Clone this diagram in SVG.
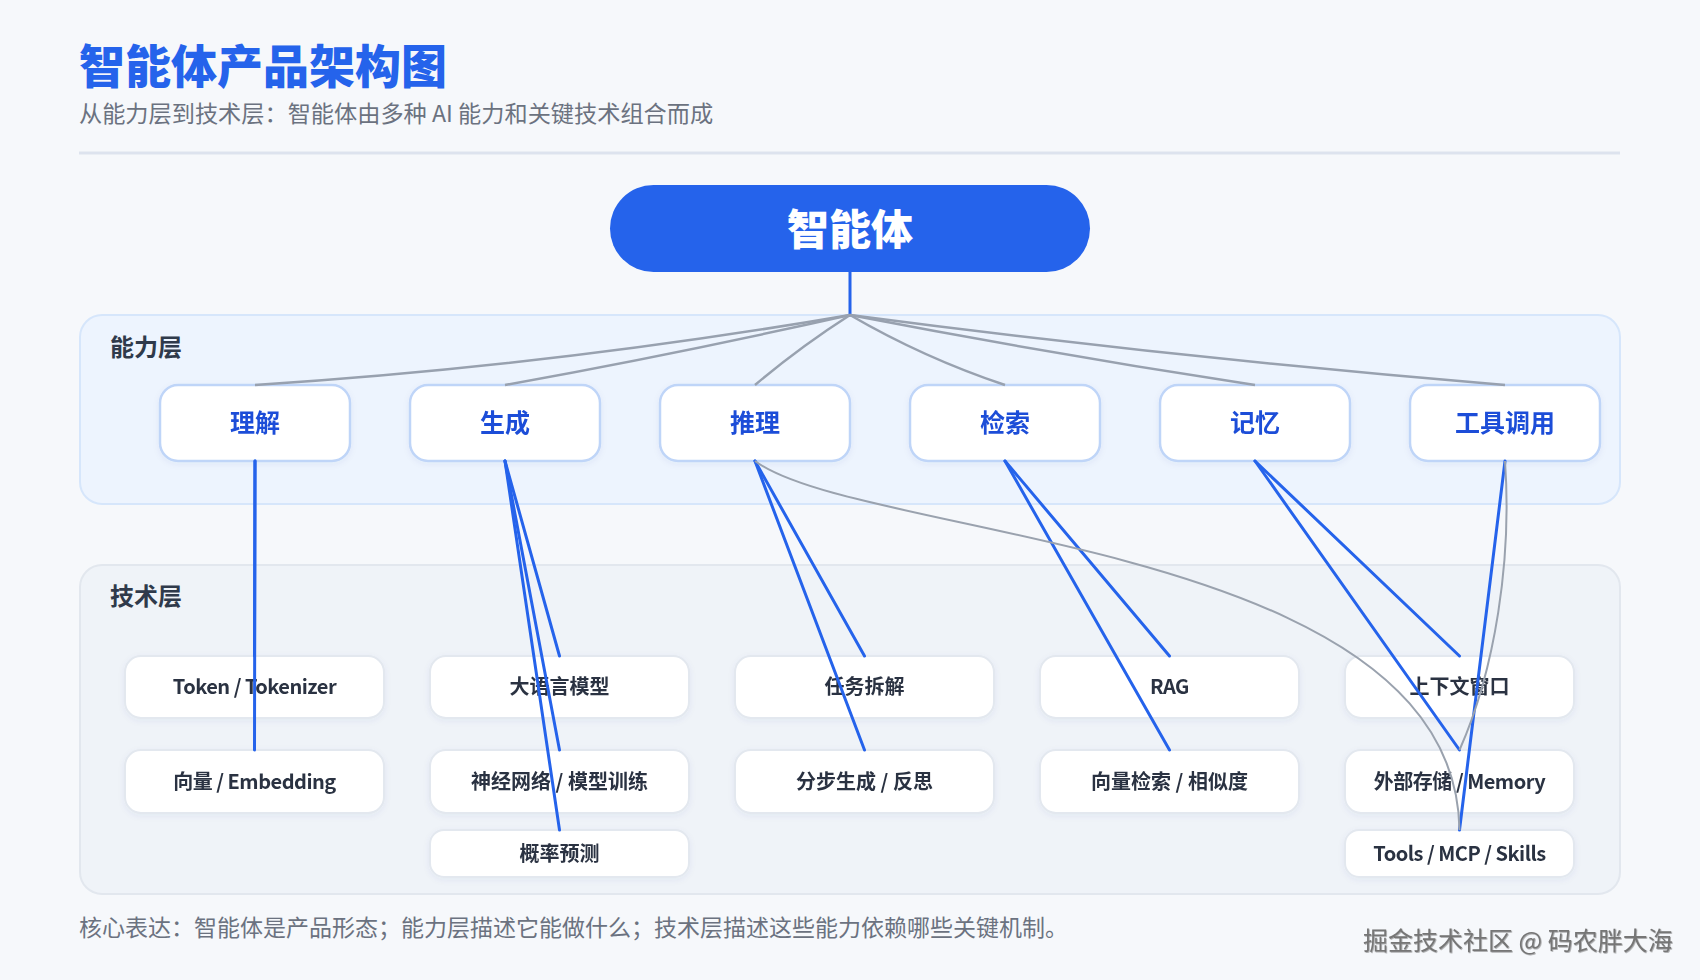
<svg xmlns="http://www.w3.org/2000/svg" width="1700" height="980" viewBox="0 0 1700 980">
<defs>
<style>
text { font-family: "Noto Sans CJK SC", "Noto Sans", sans-serif; dominant-baseline: central; }
.title { font-size: 46px; font-weight: 800; fill: #2563eb; }
.sub { font-size: 23.2px; fill: #6b7280; }
.foot { font-size: 23px; fill: #6b7280; }
.wm { font-size: 25px; fill: #767676; }
.layer-label { font-size: 24px; font-weight: 700; fill: #2f3a4b; }
.root-box { fill: #2563eb; }
.root-text { font-size: 42px; font-weight: 800; fill: #ffffff; text-anchor: middle; }
.cap-box { fill: #ffffff; stroke: #bfd5f8; stroke-width: 2.5; }
.cap-text { font-size: 25px; font-weight: 700; fill: #1d4ed8; text-anchor: middle; }
.tech-box { fill: #ffffff; stroke: #e3e8ef; stroke-width: 2; }
.tech-text { font-size: 20px; font-weight: 600; fill: #2b3342; text-anchor: middle; }
.latin { letter-spacing: -0.5px; }
.edge-blue { stroke: #2563eb; stroke-width: 3; fill: none; stroke-linecap: round; }
.edge-gray { stroke: #98a1af; stroke-width: 2.5; fill: none; }
.edge-gray-thin { stroke: #9aa2ae; stroke-width: 2; fill: none; }
</style>
<filter id="shadow" x="-10%" y="-20%" width="120%" height="150%">
<feDropShadow dx="0" dy="2" stdDeviation="3" flood-color="#1e3a8a" flood-opacity="0.06"/>
</filter>
<filter id="wmShadow" x="-5%" y="-30%" width="110%" height="160%">
<feDropShadow dx="0.8" dy="0.8" stdDeviation="0.5" flood-color="#333333" flood-opacity="0.45"/>
</filter>
</defs>

<rect x="0" y="0" width="1700" height="980" fill="#f6f8fb"/>

<g id="header">
<text class="title" x="79" y="63">智能体产品架构图</text>
<text class="sub" x="79" y="112">从能力层到技术层：智能体由多种 AI 能力和关键技术组合而成</text>
<line x1="79" y1="153" x2="1620" y2="153" stroke="#dde3ee" stroke-width="3"/>
</g>

<g id="layer-capability">
<rect x="80" y="315" width="1540" height="189" rx="22" fill="#edf4fe" stroke="#d6e6fb" stroke-width="2"/>
<text class="layer-label" x="110" y="345">能力层</text>
</g>

<g id="layer-technology">
<rect x="80" y="565" width="1540" height="329" rx="22" fill="#eff3f8" stroke="#e2e7ee" stroke-width="2"/>
<text class="layer-label" x="110" y="594">技术层</text>
</g>

<g id="node-agent">
<rect class="root-box" x="610" y="185" width="480" height="87" rx="43.5"/>
<text class="root-text" x="850" y="226">智能体</text>
</g>

<g id="node-understand" filter="url(#shadow)">
<rect class="cap-box" x="160" y="385" width="190" height="76" rx="18"/>
<text class="cap-text" x="255" y="421">理解</text>
</g>
<g id="node-generate" filter="url(#shadow)">
<rect class="cap-box" x="410" y="385" width="190" height="76" rx="18"/>
<text class="cap-text" x="505" y="421">生成</text>
</g>
<g id="node-reason" filter="url(#shadow)">
<rect class="cap-box" x="660" y="385" width="190" height="76" rx="18"/>
<text class="cap-text" x="755" y="421">推理</text>
</g>
<g id="node-retrieve" filter="url(#shadow)">
<rect class="cap-box" x="910" y="385" width="190" height="76" rx="18"/>
<text class="cap-text" x="1005" y="421">检索</text>
</g>
<g id="node-memory" filter="url(#shadow)">
<rect class="cap-box" x="1160" y="385" width="190" height="76" rx="18"/>
<text class="cap-text" x="1255" y="421">记忆</text>
</g>
<g id="node-tools" filter="url(#shadow)">
<rect class="cap-box" x="1410" y="385" width="190" height="76" rx="18"/>
<text class="cap-text" x="1505" y="421">工具调用</text>
</g>

<g id="tech-token" filter="url(#shadow)">
<rect class="tech-box" x="125" y="656" width="259" height="62" rx="16"/>
<text class="tech-text latin" x="254.5" y="685">Token / Tokenizer</text>
</g>
<g id="tech-embedding" filter="url(#shadow)">
<rect class="tech-box" x="125" y="750" width="259" height="63" rx="16"/>
<text class="tech-text latin" x="254.5" y="780">向量 / Embedding</text>
</g>
<g id="tech-llm" filter="url(#shadow)">
<rect class="tech-box" x="430" y="656" width="259" height="62" rx="16"/>
<text class="tech-text" x="559.5" y="685">大语言模型</text>
</g>
<g id="tech-nn" filter="url(#shadow)">
<rect class="tech-box" x="430" y="750" width="259" height="63" rx="16"/>
<text class="tech-text" x="559.5" y="780">神经网络 / 模型训练</text>
</g>
<g id="tech-prob" filter="url(#shadow)">
<rect class="tech-box" x="430" y="830" width="259" height="47" rx="14"/>
<text class="tech-text" x="559.5" y="852">概率预测</text>
</g>
<g id="tech-decompose" filter="url(#shadow)">
<rect class="tech-box" x="735" y="656" width="259" height="62" rx="16"/>
<text class="tech-text" x="864.5" y="685">任务拆解</text>
</g>
<g id="tech-stepwise" filter="url(#shadow)">
<rect class="tech-box" x="735" y="750" width="259" height="63" rx="16"/>
<text class="tech-text" x="864.5" y="780">分步生成 / 反思</text>
</g>
<g id="tech-rag" filter="url(#shadow)">
<rect class="tech-box" x="1040" y="656" width="259" height="62" rx="16"/>
<text class="tech-text latin" x="1169.5" y="685">RAG</text>
</g>
<g id="tech-vsearch" filter="url(#shadow)">
<rect class="tech-box" x="1040" y="750" width="259" height="63" rx="16"/>
<text class="tech-text" x="1169.5" y="780">向量检索 / 相似度</text>
</g>
<g id="tech-context" filter="url(#shadow)">
<rect class="tech-box" x="1345" y="656" width="229" height="62" rx="16"/>
<text class="tech-text" x="1459.5" y="685">上下文窗口</text>
</g>
<g id="tech-extmem" filter="url(#shadow)">
<rect class="tech-box" x="1345" y="750" width="229" height="63" rx="16"/>
<text class="tech-text latin" x="1459.5" y="780">外部存储 / Memory</text>
</g>
<g id="tech-mcp" filter="url(#shadow)">
<rect class="tech-box" x="1345" y="830" width="229" height="47" rx="14"/>
<text class="tech-text latin" x="1459.5" y="852">Tools / MCP / Skills</text>
</g>

<g id="connectors">
<line class="edge-blue" x1="850" y1="272" x2="850" y2="315" stroke-width="3.5"/>
<path class="edge-gray" d="M850 315 Q552 366 255 385"/>
<path class="edge-gray" d="M850 315 Q677 354 505 385"/>
<path class="edge-gray" d="M850 315 Q800 347 755 385"/>
<path class="edge-gray" d="M850 315 Q924 358 1005 385"/>
<path class="edge-gray" d="M850 315 Q1052 354 1255 385"/>
<path class="edge-gray" d="M850 315 Q1177 358 1505 385"/>

<line class="edge-blue" x1="255" y1="461" x2="254.5" y2="656"/>
<line class="edge-blue" x1="255" y1="461" x2="254.5" y2="750"/>
<line class="edge-blue" x1="505" y1="461" x2="559.5" y2="656"/>
<line class="edge-blue" x1="505" y1="461" x2="559.5" y2="750"/>
<line class="edge-blue" x1="505" y1="461" x2="559.5" y2="830"/>
<line class="edge-blue" x1="755" y1="461" x2="864.5" y2="656"/>
<line class="edge-blue" x1="755" y1="461" x2="864.5" y2="750"/>
<line class="edge-blue" x1="1005" y1="461" x2="1169.5" y2="656"/>
<line class="edge-blue" x1="1005" y1="461" x2="1169.5" y2="750"/>
<line class="edge-blue" x1="1255" y1="461" x2="1459.5" y2="656"/>
<line class="edge-blue" x1="1255" y1="461" x2="1459.5" y2="750"/>
<line class="edge-blue" x1="1505" y1="461" x2="1459.5" y2="830"/>

<path class="edge-gray-thin" d="M755 461 C860 540 1455 540 1459.5 830"/>
<path class="edge-gray-thin" d="M1505 461 C1512 560 1495 670 1459.5 750"/>
</g>

<g id="footer">
<text class="foot" x="79" y="926">核心表达：智能体是产品形态；能力层描述它能做什么；技术层描述这些能力依赖哪些关键机制。</text>
<text class="wm" x="1363" y="939" filter="url(#wmShadow)">掘金技术社区 @ 码农胖大海</text>
</g>
</svg>
